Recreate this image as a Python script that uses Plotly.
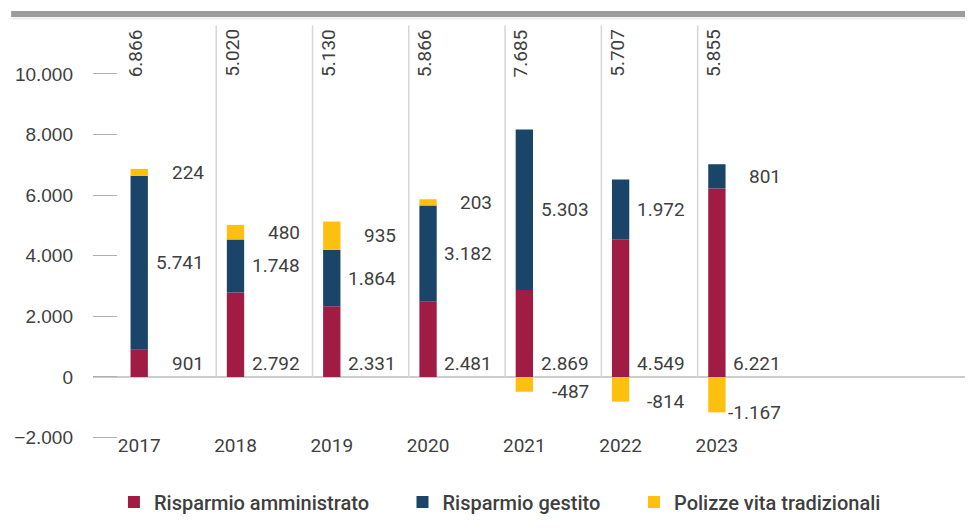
import plotly.graph_objects as go

years = [2017, 2018, 2019, 2020, 2021, 2022, 2023]
amministrato = [901, 2792, 2331, 2481, 2869, 4549, 6221]
gestito = [5741, 1748, 1864, 3182, 5303, 1972, 801]
polizze = [224, 480, 935, 203, -487, -814, -1167]
y_ticks = [-2000, 0, 2000, 4000, 6000, 8000, 10000]

red = '#A01C44'
blue = '#1B4568'
yellow = '#FDC00F'
text_color = '#3f3f3f'
val_font = dict(family='Roboto', size=19, color=text_color)
legend_font = dict(family='Roboto', size=20, color=text_color, weight=500)


def fmt(v):
    return f'{v:,}'.replace(',', '.')


fig = go.Figure()
series = [('Risparmio amministrato', amministrato, red, 'legend'),
          ('Risparmio gestito', gestito, blue, 'legend2'),
          ('Polizze vita tradizionali', polizze, yellow, 'legend3')]
for name, vals, color, leg in series:
    fig.add_trace(go.Bar(x=years, y=vals, name=name, marker_color=color,
                         marker_line_width=0, width=0.18, legend=leg))

# value labels next to each bar
for yr, r, g, p in zip(years, amministrato, gestito, polizze):
    labels = [(min(r / 2, 450), r), (r + g / 2, g)]
    if p >= 0:
        labels.append((r + g + p / 2, p))
    else:
        labels.append((p, p))
    for ypos, v in labels:
        fig.add_annotation(x=yr + 0.69, y=ypos, text=fmt(v), showarrow=False,
                           xanchor='right', yanchor='middle', font=val_font)
    # total, rotated at the top
    fig.add_annotation(x=yr - 0.04, y=1, yref='paper', yshift=-5, text=fmt(r + g + p),
                       textangle=-90, showarrow=False, xanchor='center', yanchor='top',
                       font=val_font)

# separators between years
for yr in years[:-1]:
    fig.add_shape(type='line', x0=yr + 0.8, x1=yr + 0.8, y0=0, y1=11600,
                  line=dict(color='#d6d6d6', width=1.5))

# grey band at the top
fig.add_shape(type='line', xref='paper', yref='paper', x0=-0.093, x1=1, y0=1.0191, y1=1.0191,
              line=dict(color='#9b9b9b', width=6))
fig.add_shape(type='line', xref='paper', yref='paper', x0=-0.093, x1=1, y0=1.0084, y1=1.0084,
              line=dict(color='#ececec', width=2))

leg_common = dict(orientation='h', xanchor='left', y=-0.1483, yanchor='middle',
                  font=legend_font, itemclick=False, bgcolor='rgba(0,0,0,0)')
fig.update_layout(
    width=973, height=529,
    barmode='relative',
    separators=',.',
    plot_bgcolor='white', paper_bgcolor='white',
    margin=dict(l=85, r=8, t=14, b=97, autoexpand=False),
    font=dict(family='Roboto', color=text_color),
    showlegend=True,
    legend=dict(x=0.0238, **leg_common),
    legend2=dict(x=0.3517, **leg_common),
    legend3=dict(x=0.6148, **leg_common),
)
fig.update_xaxes(range=[2016.52, 2025.66], tickvals=years, ticktext=[str(y) for y in years],
                 showgrid=False, showline=False, ticks='', zeroline=False,
                 ticklabelstandoff=-8,
                 tickfont=dict(family='Roboto', size=19, color=text_color))
fig.update_yaxes(range=[-2080, 11716], tickvals=y_ticks, tickformat=',d',
                 showgrid=False, showline=False, ticks='inside', ticklen=24,
                 tickcolor='#b0b0b0', tickwidth=1.2, ticklabelstandoff=19,
                 zeroline=True, zerolinecolor='#cccccc', zerolinewidth=1.5,
                 tickfont=dict(family='Liberation Sans', size=19, color=text_color))

fig.write_html('out.html')
